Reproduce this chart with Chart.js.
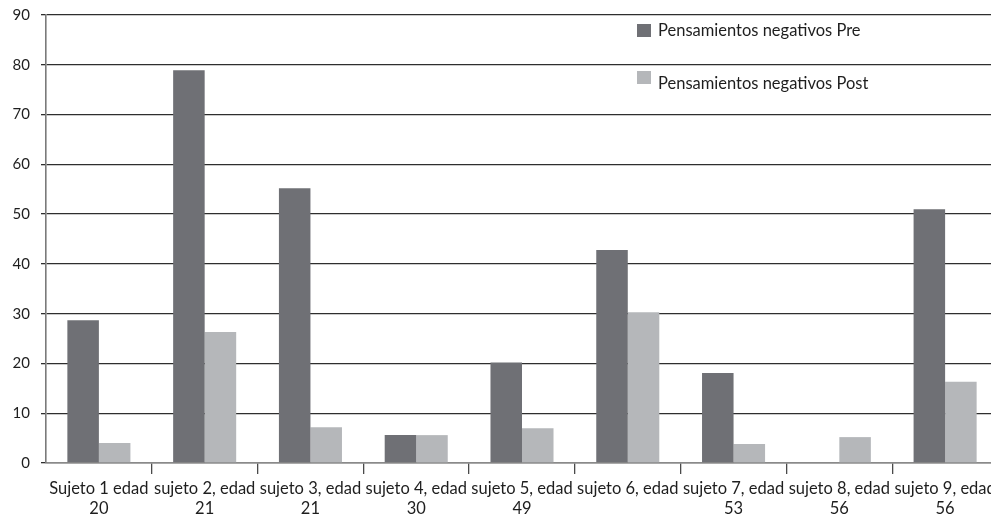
<!DOCTYPE html>
<html>
<head>
<meta charset="utf-8">
<script src="https://cdn.jsdelivr.net/npm/chart.js@4/dist/chart.umd.min.js"></script>
<style>
  html, body { margin: 0; padding: 0; background: #fff; overflow: hidden; }
  #wrap { width: 998px; height: 517px; }
</style>
</head>
<body>
<div id="wrap"><canvas id="c" width="998" height="517"></canvas></div>
<script>
// Categories (two-line labels: subject / age)
const categories = [
  ["Sujeto 1 edad", "20"],
  ["sujeto 2, edad", "21"],
  ["sujeto 3, edad", "21"],
  ["sujeto 4, edad", "30"],
  ["sujeto 5, edad", "49"],
  ["sujeto 6, edad", ""],
  ["sujeto 7, edad", "53"],
  ["sujeto 8, edad", "56"],
  ["sujeto 9, edad", "56"]
];

// Negative thoughts before and after
const preValues  = [28.7, 78.9, 55.2, 5.6, 20.2, 42.8, 18.1, 0, 51.0];
const postValues = [4.0, 26.3, 7.2, 5.6, 7.0, 30.3, 3.8, 5.2, 16.3];

const seriesNames = ["Pensamientos negativos Pre", "Pensamientos negativos Post"];
const yTicks = [0, 10, 20, 30, 40, 50, 60, 70, 80, 90];

const FONT = "Lato, 'Open Sans', sans-serif";

// Legend drawn as two stacked entries inside the plot area, top right
const insideLegend = {
  id: 'insideLegend',
  afterDraw(chart) {
    const ctx = chart.ctx;
    const boxTop = [24, 71];
    const textMid = [31, 84];
    ctx.save();
    ctx.font = "16.5px " + FONT;
    ctx.textBaseline = 'middle';
    ctx.textAlign = 'left';
    chart.data.datasets.forEach((ds, i) => {
      ctx.fillStyle = ds.backgroundColor;
      ctx.fillRect(637, boxTop[i], 14, 13);
      ctx.fillStyle = '#1e1e1e';
      ctx.fillText(ds.label, 658, textMid[i]);
    });
    ctx.restore();
  }
};

new Chart(document.getElementById('c'), {
  type: 'bar',
  data: {
    labels: categories,
    datasets: [
      { label: seriesNames[0], data: preValues, backgroundColor: '#6f7075', borderWidth: 0 },
      { label: seriesNames[1], data: postValues, backgroundColor: '#b5b7ba', borderWidth: 0 }
    ]
  },
  options: {
    responsive: false,
    animation: false,
    devicePixelRatio: 1,
    layout: { padding: { top: 15, right: 0, left: 0, bottom: 0 } },
    datasets: { bar: { categoryPercentage: 0.596, barPercentage: 1.0 } },
    plugins: {
      legend: { display: false },
      tooltip: { enabled: false }
    },
    scales: {
      x: {
        offset: true,
        grid: {
          offset: true,
          drawOnChartArea: false,
          drawTicks: true,
          tickLength: 11,
          lineWidth: 1.3,
          color: (c) => c.index === 0 ? 'rgba(0,0,0,0)' : '#4a4a4a'
        },
        border: { display: true, color: '#8a8a8a', width: 1.6 },
        ticks: {
          color: '#1e1e1e',
          font: { family: FONT, size: 16.5, lineHeight: 1.25 },
          padding: 4,
          maxRotation: 0,
          autoSkip: false
        },
        afterFit(scale) { scale.height = 54; scale.paddingLeft = 0; scale.paddingRight = 0; }
      },
      y: {
        min: 0,
        max: 90,
        afterBuildTicks(scale) { scale.ticks = yTicks.map(v => ({ value: v })); },
        grid: {
          drawTicks: true,
          tickLength: 5,
          lineWidth: 1.3,
          color: '#2e2e2e'
        },
        border: { display: true, color: '#7a7a7a', width: 1.6 },
        ticks: {
          color: '#1e1e1e',
          font: { family: FONT, size: 15 },
          padding: 11
        },
        afterFit(scale) { scale.width = 46; scale.paddingTop = 0; scale.paddingBottom = 0; }
      }
    }
  },
  plugins: [insideLegend]
});
</script>
</body>
</html>
